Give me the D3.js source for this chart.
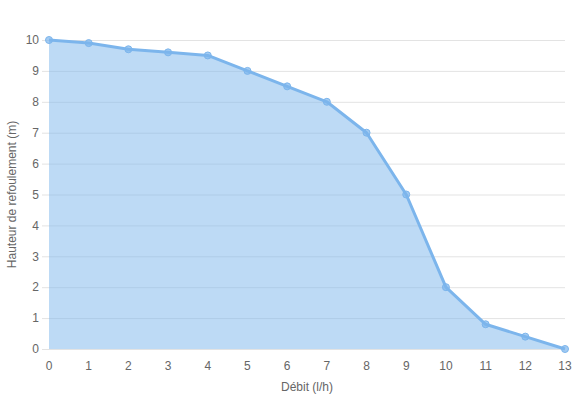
<!DOCTYPE html>
<html>
<head>
<meta charset="utf-8">
<script src="https://cdn.jsdelivr.net/npm/d3@7"></script>
<style>
  body { margin: 0; background: #fff; }
  text { font-family: "Liberation Sans", Arial, sans-serif; }
</style>
</head>
<body>
<svg id="chart" width="575" height="400"></svg>
<script>
const debits = [0, 1, 2, 3, 4, 5, 6, 7, 8, 9, 10, 11, 12, 13];
const hauteurs = [10, 9.9, 9.7, 9.6, 9.5, 9, 8.5, 8, 7, 5, 2, 0.8, 0.4, 0];
const yTicks = [0, 1, 2, 3, 4, 5, 6, 7, 8, 9, 10];

const svg = d3.select('#chart');
const margin = { top: 40, right: 10, bottom: 51, left: 49 };
const width = 575 - margin.left - margin.right;
const height = 400 - margin.top - margin.bottom;

const x = d3.scaleLinear().domain([0, 13]).range([0, width]);
const y = d3.scaleLinear().domain([0, 10]).range([height, 0]);

const g = svg.append('g').attr('transform', `translate(${margin.left},${margin.top})`);

// horizontal grid
g.selectAll('line.grid')
  .data(yTicks)
  .enter()
  .append('line')
  .attr('class', 'grid')
  .attr('x1', -7)
  .attr('x2', width)
  .attr('y1', d => y(d) + 0.5)
  .attr('y2', d => y(d) + 0.5)
  .attr('stroke', '#e3e3e3')
  .attr('stroke-width', 1);

// y labels
g.selectAll('text.ylab')
  .data(yTicks)
  .enter()
  .append('text')
  .attr('class', 'ylab')
  .attr('x', -10)
  .attr('y', d => y(d))
  .attr('dy', '0.35em')
  .attr('text-anchor', 'end')
  .attr('fill', '#666')
  .style('font-size', '12px')
  .text(d => d);

// x labels
g.selectAll('text.xlab')
  .data(debits)
  .enter()
  .append('text')
  .attr('class', 'xlab')
  .attr('x', d => x(d))
  .attr('y', height + 17)
  .attr('dy', '0.35em')
  .attr('text-anchor', 'middle')
  .attr('fill', '#666')
  .style('font-size', '12px')
  .text(d => d);

const pts = debits.map((d, i) => [d, hauteurs[i]]);

const area = d3.area()
  .x(d => x(d[0]))
  .y0(y(0))
  .y1(d => y(d[1]));

g.append('path')
  .datum(pts)
  .attr('d', area)
  .attr('fill', 'rgba(124,181,236,0.5)');

const line = d3.line()
  .x(d => x(d[0]))
  .y(d => y(d[1]));

g.append('path')
  .datum(pts)
  .attr('d', line)
  .attr('fill', 'none')
  .attr('stroke', '#7cb5ec')
  .attr('stroke-width', 3)
  .attr('stroke-linejoin', 'round');

g.selectAll('circle.pt')
  .data(pts)
  .enter()
  .append('circle')
  .attr('class', 'pt')
  .attr('cx', d => x(d[0]))
  .attr('cy', d => y(d[1]))
  .attr('r', 3.5)
  .attr('fill', 'rgba(124,181,236,0.7)')
  .attr('stroke', '#7cb5ec')
  .attr('stroke-width', 1);

// axis titles
svg.append('text')
  .attr('x', margin.left + width / 2)
  .attr('y', 387)
  .attr('dy', '0.35em')
  .attr('text-anchor', 'middle')
  .attr('fill', '#666')
  .style('font-size', '12px')
  .text('Débit (l/h)');

svg.append('text')
  .attr('transform', `translate(12,${margin.top + height / 2}) rotate(-90)`)
  .attr('dy', '0.35em')
  .attr('text-anchor', 'middle')
  .attr('fill', '#666')
  .style('font-size', '12px')
  .text('Hauteur de refoulement (m)');
</script>
</body>
</html>
